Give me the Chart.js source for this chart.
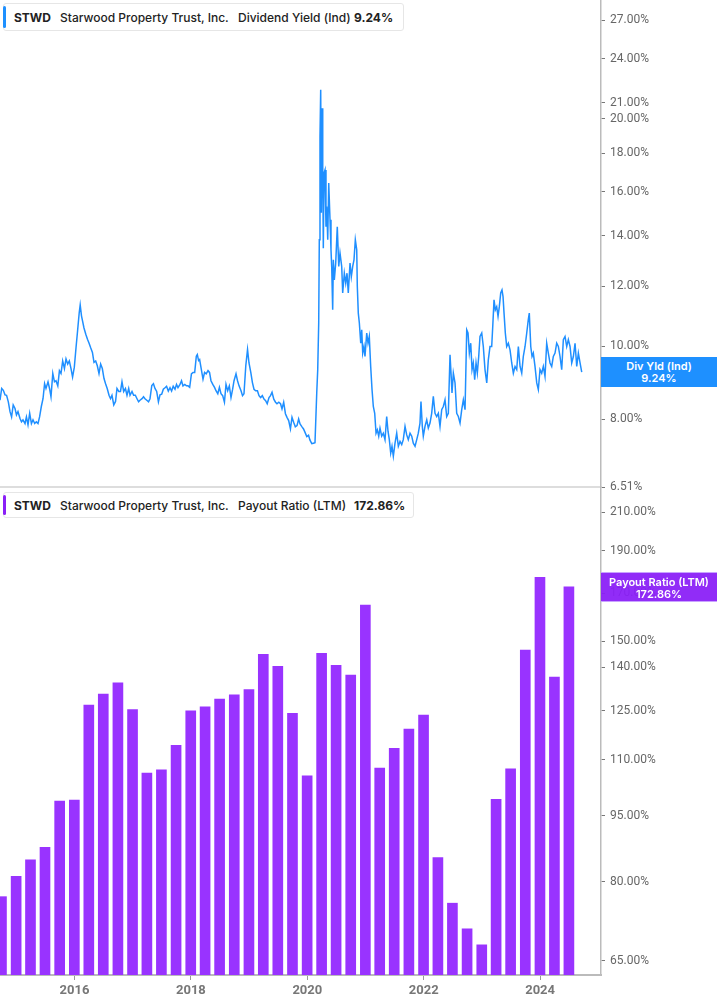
<!DOCTYPE html>
<html>
<head>
<meta charset="utf-8">
<script src="https://cdn.jsdelivr.net/npm/chart.js@4.4.1/dist/chart.umd.min.js"></script>
<style>
  html, body { margin: 0; padding: 0; background: #fff; }
  body { width: 717px; height: 1005px; position: relative; overflow: hidden; font-family: Inter, Roboto, sans-serif; }
  canvas { position: absolute; left: 0; }
  #yieldChart { top: 0; }
  #payoutChart { top: 487px; }
  .legend { position: absolute; left: 3px; background: #fff; border: 1px solid #e6e6e6; border-radius: 3px; box-sizing: border-box; font-size: 12px; color: #222; }
  .legend .mark { position: absolute; left: -1px; top: 2px; bottom: 2px; width: 3px; border-radius: 2px; }
  .legend span { position: absolute; top: 50%; transform: translateY(-50%); white-space: nowrap; font-weight: 500; }
  .legend span.b { font-weight: 700; }
  .tag { position: absolute; left: 601px; width: 116px; height: 30px; color: #fff; font: 600 11px Inter, Roboto, sans-serif; text-align: center; line-height: 12px; box-sizing: border-box; padding-top: 3px; }
</style>
</head>
<body>
<canvas id="yieldChart" width="717" height="500"></canvas>
<canvas id="payoutChart" width="717" height="518"></canvas>

<div class="legend" style="top:3px; width:401px; height:28px;">
  <div class="mark" style="background:#1e90ff"></div>
  <span class="b" style="left:10px">STWD</span>
  <span style="left:56px">Starwood Property Trust, Inc.</span>
  <span style="left:234px">Dividend Yield (Ind)</span>
  <span class="b" style="left:350px">9.24%</span>
</div>
<div class="legend" style="top:492px; width:411px; height:26px;">
  <div class="mark" style="background:#8a1ff7"></div>
  <span class="b" style="left:10px">STWD</span>
  <span style="left:56px">Starwood Property Trust, Inc.</span>
  <span style="left:234px">Payout Ratio (LTM)</span>
  <span class="b" style="left:350px">172.86%</span>
</div>
<div class="tag" style="top:357px; background:#1e90ff;">Div Yld (Ind)<br>9.24%</div>
<div class="tag" style="top:572px; background:rgba(138,31,247,0.94); border-top:1px solid #c9a3ff; border-bottom:1px solid #c9a3ff;">Payout Ratio (LTM)<br>172.86%</div>

<script>
// x axis range in decimal years
var xMin = 2014.72;
var xMax = 2025.046;
var yearTicks = [2016, 2018, 2020, 2022, 2024];

// dividend yield (indicated), %
var yieldYears = [
  2014.720, 2014.749, 2014.777, 2014.806, 2014.833, 2014.863, 2014.892, 2014.919, 2014.947, 2014.978,
  2015.003, 2015.029, 2015.064, 2015.089, 2015.115, 2015.150, 2015.174, 2015.201, 2015.230, 2015.260,
  2015.287, 2015.316, 2015.344, 2015.373, 2015.400, 2015.430, 2015.459, 2015.486, 2015.510, 2015.545,
  2015.571, 2015.596, 2015.627, 2015.656, 2015.682, 2015.713, 2015.741, 2015.768, 2015.797, 2015.827,
  2015.854, 2015.883, 2015.911, 2015.940, 2015.967, 2015.997, 2016.026, 2016.053, 2016.081, 2016.098,
  2016.120, 2016.138, 2016.163, 2016.194, 2016.223, 2016.249, 2016.278, 2016.308, 2016.335, 2016.364,
  2016.392, 2016.421, 2016.449, 2016.478, 2016.507, 2016.534, 2016.562, 2016.593, 2016.619, 2016.644,
  2016.675, 2016.705, 2016.730, 2016.761, 2016.790, 2016.816, 2016.845, 2016.875, 2016.902, 2016.931,
  2016.954, 2016.988, 2017.016, 2017.045, 2017.074, 2017.101, 2017.125, 2017.160, 2017.186, 2017.211,
  2017.242, 2017.272, 2017.297, 2017.328, 2017.356, 2017.383, 2017.412, 2017.442, 2017.469, 2017.498,
  2017.526, 2017.555, 2017.582, 2017.612, 2017.641, 2017.668, 2017.696, 2017.727, 2017.753, 2017.778,
  2017.813, 2017.839, 2017.864, 2017.895, 2017.923, 2017.950, 2017.979, 2018.009, 2018.036, 2018.065,
  2018.093, 2018.110, 2018.132, 2018.150, 2018.179, 2018.208, 2018.235, 2018.263, 2018.294, 2018.320,
  2018.345, 2018.376, 2018.406, 2018.431, 2018.462, 2018.490, 2018.517, 2018.546, 2018.576, 2018.603,
  2018.632, 2018.660, 2018.689, 2018.717, 2018.741, 2018.775, 2018.801, 2018.827, 2018.861, 2018.887,
  2018.912, 2018.943, 2018.973, 2018.998, 2019.029, 2019.057, 2019.084, 2019.113, 2019.143, 2019.170,
  2019.198, 2019.227, 2019.256, 2019.284, 2019.311, 2019.342, 2019.368, 2019.394, 2019.424, 2019.454,
  2019.479, 2019.510, 2019.540, 2019.565, 2019.594, 2019.624, 2019.651, 2019.680, 2019.710, 2019.737,
  2019.765, 2019.794, 2019.823, 2019.851, 2019.875, 2019.909, 2019.935, 2019.961, 2019.991, 2020.021,
  2020.046, 2020.077, 2020.105, 2020.132, 2020.162, 2020.179, 2020.196, 2020.206, 2020.218, 2020.230,
  2020.241, 2020.253, 2020.265, 2020.275, 2020.287, 2020.304, 2020.321, 2020.333, 2020.351, 2020.368,
  2020.390, 2020.407, 2020.419, 2020.436, 2020.447, 2020.464, 2020.488, 2020.515, 2020.540, 2020.562,
  2020.591, 2020.608, 2020.636, 2020.660, 2020.682, 2020.704, 2020.734, 2020.756, 2020.780, 2020.802,
  2020.825, 2020.849, 2020.859, 2020.876, 2020.894, 2020.918, 2020.935, 2020.952, 2020.974, 2020.991,
  2021.021, 2021.043, 2021.065, 2021.089, 2021.112, 2021.134, 2021.158, 2021.181, 2021.203, 2021.227,
  2021.249, 2021.278, 2021.306, 2021.335, 2021.364, 2021.387, 2021.409, 2021.433, 2021.455, 2021.478,
  2021.507, 2021.536, 2021.564, 2021.593, 2021.622, 2021.649, 2021.679, 2021.708, 2021.735, 2021.765,
  2021.794, 2021.821, 2021.851, 2021.880, 2021.907, 2021.936, 2021.953, 2021.976, 2021.993, 2022.022,
  2022.052, 2022.079, 2022.108, 2022.137, 2022.165, 2022.194, 2022.223, 2022.251, 2022.280, 2022.309,
  2022.337, 2022.366, 2022.395, 2022.423, 2022.452, 2022.469, 2022.486, 2022.509, 2022.538, 2022.567,
  2022.595, 2022.624, 2022.653, 2022.681, 2022.710, 2022.739, 2022.761, 2022.784, 2022.808, 2022.830,
  2022.852, 2022.876, 2022.899, 2022.921, 2022.945, 2022.967, 2022.997, 2023.024, 2023.053, 2023.083,
  2023.110, 2023.139, 2023.168, 2023.186, 2023.208, 2023.230, 2023.254, 2023.277, 2023.299, 2023.323,
  2023.345, 2023.363, 2023.380, 2023.402, 2023.426, 2023.454, 2023.483, 2023.512, 2023.540, 2023.569,
  2023.598, 2023.626, 2023.655, 2023.684, 2023.711, 2023.741, 2023.770, 2023.797, 2023.814, 2023.839,
  2023.861, 2023.883, 2023.912, 2023.942, 2023.969, 2023.998, 2024.027, 2024.055, 2024.084, 2024.113,
  2024.141, 2024.170, 2024.199, 2024.227, 2024.256, 2024.285, 2024.313, 2024.342, 2024.371, 2024.399,
  2024.428, 2024.457, 2024.485, 2024.514, 2024.543, 2024.571, 2024.600, 2024.629, 2024.657, 2024.686,
  2024.715
];
var yieldValues = [
  8.48, 8.79, 8.74, 8.62, 8.61, 8.44, 8.19, 8.06, 8.36, 8.27,
  8.11, 8.19, 8.02, 7.94, 7.99, 7.90, 8.06, 7.87, 8.15, 7.90,
  7.99, 7.90, 7.94, 7.90, 8.06, 8.32, 8.52, 8.92, 8.79, 8.97,
  8.79, 8.57, 9.20, 8.97, 9.00, 8.86, 9.28, 9.20, 9.56, 9.34,
  9.62, 9.47, 9.56, 9.34, 9.10, 9.38, 9.95, 10.48, 11.07, 11.34,
  10.97, 10.80, 10.57, 10.37, 10.21, 10.10, 9.95, 9.81, 9.52, 9.56,
  9.42, 9.20, 9.47, 9.34, 9.06, 8.92, 8.79, 8.61, 8.52, 8.61,
  8.36, 8.45, 8.79, 8.71, 8.71, 8.97, 8.71, 8.79, 8.61, 8.79,
  8.61, 8.71, 8.61, 8.61, 8.52, 8.44, 8.48, 8.52, 8.57, 8.52,
  8.48, 8.44, 8.52, 8.87, 8.92, 8.79, 8.71, 8.44, 8.62, 8.64,
  8.77, 8.81, 8.85, 8.72, 8.81, 8.72, 8.85, 8.77, 8.90, 8.81,
  8.90, 9.00, 8.86, 8.90, 8.86, 8.86, 8.82, 9.19, 9.23, 9.23,
  9.70, 9.75, 9.57, 9.60, 9.32, 9.04, 9.23, 9.19, 9.28, 9.23,
  9.00, 8.90, 8.82, 8.73, 8.65, 8.82, 8.65, 8.60, 8.43, 8.90,
  8.73, 8.86, 8.55, 8.77, 9.00, 9.19, 9.00, 8.86, 8.73, 8.60,
  8.65, 9.42, 9.90, 9.50, 9.23, 8.95, 8.77, 8.73, 8.73, 8.60,
  8.55, 8.60, 8.51, 8.47, 8.39, 8.55, 8.60, 8.69, 8.51, 8.43,
  8.39, 8.43, 8.39, 8.26, 8.43, 8.14, 8.05, 7.97, 7.77, 8.05,
  7.93, 7.82, 7.85, 8.01, 7.89, 7.82, 7.77, 7.69, 7.59, 7.62,
  7.51, 7.43, 7.44, 7.45, 8.67, 9.31, 10.74, 13.83, 18.95, 21.84,
  15.02, 20.65, 17.29, 13.48, 16.94, 17.11, 14.39, 15.31, 13.83, 16.44,
  14.70, 13.41, 12.75, 11.17, 13.01, 12.24, 12.88, 14.39, 12.75, 13.28,
  12.75, 11.76, 12.49, 12.12, 12.49, 11.76, 12.88, 12.36, 12.75, 13.01,
  13.83, 13.41, 12.00, 11.06, 10.73, 10.09, 10.51, 9.79, 9.99, 9.69,
  10.41, 10.09, 10.30, 9.40, 8.76, 8.32, 8.15, 7.67, 7.75, 7.60,
  7.79, 7.60, 7.67, 7.52, 8.07, 7.71, 7.52, 7.22, 7.37, 7.15,
  7.44, 7.67, 7.37, 7.48, 7.41, 7.52, 7.83, 7.63, 7.52, 7.67,
  7.60, 7.44, 7.37, 7.52, 7.67, 7.91, 8.45, 7.83, 7.60, 7.83,
  7.99, 7.79, 7.91, 8.15, 8.58, 8.15, 8.07, 8.15, 7.83, 8.24,
  8.32, 8.49, 8.07, 8.15, 9.74, 9.21, 8.67, 9.21, 8.94, 8.15,
  8.07, 7.91, 8.24, 8.49, 8.24, 10.51, 10.41, 9.79, 10.09, 9.31,
  9.50, 9.03, 9.50, 9.21, 9.69, 10.30, 10.41, 9.99, 9.31, 8.94,
  9.59, 9.99, 9.99, 10.62, 11.52, 11.17, 11.28, 10.95, 11.28, 11.76,
  11.87, 11.63, 11.06, 10.41, 9.99, 10.09, 9.89, 9.50, 9.21, 9.40,
  9.31, 9.99, 9.40, 9.21, 9.69, 9.99, 10.41, 10.84, 11.06, 9.99,
  9.69, 9.79, 9.40, 8.94, 8.76, 9.31, 9.21, 9.40, 9.12, 10.09,
  9.79, 9.50, 9.40, 9.69, 9.79, 10.09, 9.99, 9.69, 9.31, 10.20,
  10.30, 9.99, 10.20, 9.99, 9.50, 9.69, 10.09, 9.40, 9.79, 9.50,
  9.24
];
var yieldTicks = [6.51, 8, 10, 12, 14, 16, 18, 20, 21, 24, 27];

// payout ratio (LTM), %, by quarter end
var quarterEnds = [
  '2014-09-30', '2014-12-31', '2015-03-31', '2015-06-30', '2015-09-30', '2015-12-31',
  '2016-03-31', '2016-06-30', '2016-09-30', '2016-12-31', '2017-03-31', '2017-06-30',
  '2017-09-30', '2017-12-31', '2018-03-31', '2018-06-30', '2018-09-30', '2018-12-31',
  '2019-03-31', '2019-06-30', '2019-09-30', '2019-12-31', '2020-03-31', '2020-06-30',
  '2020-09-30', '2020-12-31', '2021-03-31', '2021-06-30', '2021-09-30', '2021-12-31',
  '2022-03-31', '2022-06-30', '2022-09-30', '2022-12-31', '2023-03-31', '2023-06-30',
  '2023-09-30', '2023-12-31', '2024-03-31', '2024-06-30'
];
var payoutValues = [
  76.9, 81.1, 84.7, 87.5, 98.7, 99.0, 126.9, 130.6, 134.5, 125.4,
  106.2, 107.1, 114.2, 125.0, 126.3, 128.9, 130.3, 132.1, 144.9, 140.4,
  124.2, 105.5, 145.3, 140.8, 137.2, 164.8, 107.6, 113.3, 119.2, 123.6,
  85.2, 75.6, 70.7, 67.8, 99.2, 107.4, 146.5, 177.2, 136.5, 172.86
];
var payoutTicks = [65, 80, 95, 110, 125, 140, 150, 170, 190, 210];

function toYear(s) {
  var d = new Date(s + 'T00:00:00Z');
  var y = d.getUTCFullYear();
  var a = Date.UTC(y, 0, 1), b = Date.UTC(y + 1, 0, 1);
  return y + (d.getTime() - a) / (b - a);
}

var tickFont = { family: 'Roboto', size: 12 };

// right axis: fixed width, no label overflow padding
function fitRight(s) {
  s.width = 116;
  s.paddingTop = 0;
  s.paddingBottom = 0;
}

new Chart(document.getElementById('yieldChart'), {
  type: 'line',
  data: {
    datasets: [{
      data: yieldYears.map(function (t, i) { return { x: t, y: yieldValues[i] }; }),
      borderColor: '#1f8fff',
      borderWidth: 1.5,
      pointRadius: 0,
      tension: 0
    }]
  },
  options: {
    responsive: false,
    animation: false,
    layout: { padding: 0, autoPadding: false },
    plugins: { legend: { display: false }, tooltip: { enabled: false } },
    scales: {
      x: {
        type: 'linear', min: xMin, max: xMax,
        grid: { display: false },
        ticks: { display: false },
        border: { color: '#dddddd', width: 2 },
        afterFit: function (s) { s.height = 13; s.paddingLeft = 0; s.paddingRight = 0; }
      },
      y: {
        type: 'logarithmic', position: 'right', min: 6.51, max: 28.72,
        afterBuildTicks: function (s) { s.ticks = yieldTicks.map(function (v) { return { value: v }; }); },
        afterFit: fitRight,
        grid: { drawOnChartArea: false, tickLength: 4, tickColor: '#777' },
        border: { color: '#bbbbbb', width: 1.5 },
        ticks: { color: '#666', font: tickFont, padding: 5, callback: function (v) { return v.toFixed(2) + '%'; } }
      }
    }
  }
});

new Chart(document.getElementById('payoutChart'), {
  type: 'bar',
  data: {
    datasets: [{
      data: quarterEnds.map(function (d, i) { return { x: toYear(d), y: payoutValues[i] }; }),
      backgroundColor: '#9933ff',
      barThickness: 10,
      borderWidth: 0
    }]
  },
  options: {
    responsive: false,
    animation: false,
    layout: { padding: 0, autoPadding: false },
    plugins: { legend: { display: false }, tooltip: { enabled: false } },
    scales: {
      x: {
        type: 'linear', min: xMin, max: xMax, offset: false,
        afterBuildTicks: function (s) { s.ticks = yearTicks.map(function (v) { return { value: v }; }); },
        grid: { drawOnChartArea: false, offset: false, tickLength: 5, tickColor: '#999' },
        border: { color: '#bbbbbb', width: 2 },
        ticks: { color: '#777', font: { family: 'Roboto', size: 13, weight: 'bold' }, padding: 3, callback: function (v) { return String(v); } },
        afterFit: function (s) { s.height = 30; s.paddingLeft = 0; s.paddingRight = 0; }
      },
      y: {
        type: 'logarithmic', position: 'right', min: 62.66, max: 224.4,
        afterBuildTicks: function (s) { s.ticks = payoutTicks.map(function (v) { return { value: v }; }); },
        afterFit: fitRight,
        grid: { drawOnChartArea: false, tickLength: 4, tickColor: '#777' },
        border: { color: '#bbbbbb', width: 1.5 },
        ticks: { color: '#666', font: tickFont, padding: 5, callback: function (v) { return v.toFixed(2) + '%'; } }
      }
    }
  }
});
</script>
</body>
</html>
